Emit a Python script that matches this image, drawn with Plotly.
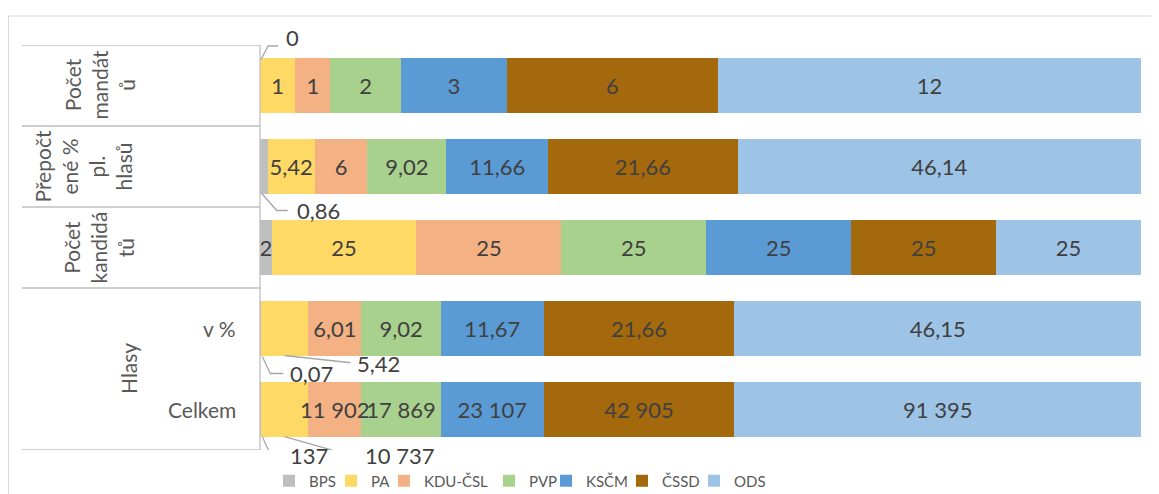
import plotly.graph_objects as go

# ---------------- data ----------------
row_labels = ["Počet<br>mandát<br>ů", "Přepočt<br>ené %<br>pl.<br>hlasů", "Počet<br>kandidá<br>tů", "v %", "Celkem"]
group_label = "Hlasy"          # spans the last two rows
parties = ["BPS", "PA", "KDU-ČSL", "PVP", "KSČM", "ČSSD", "ODS"]
bps = [0, 0.86, 2, 0.07, 137]
pa = [1, 5.42, 25, 5.42, 10737]
kdu = [1, 6, 25, 6.01, 11902]
pvp = [2, 9.02, 25, 9.02, 17869]
kscm = [3, 11.66, 25, 11.67, 23107]
cssd = [6, 21.66, 25, 21.66, 42905]
ods = [12, 46.14, 25, 46.15, 91395]
series = [bps, pa, kdu, pvp, kscm, cssd, ods]
colors = ["#BFBFBF", "#FFD966", "#F4B183", "#A9D18E", "#5B9BD5", "#A5690D", "#9DC3E6"]

# ---------------- layout constants ----------------
OFF = 8                      # page body margin
W, H = 1159 - OFF, 494 - OFF
L, R, T, B = 252, 18, 37, 44
PW = W - L - R
PH = H - T - B
FONT = "Lato"
LABEL_COLOR = "#404040"
AXIS_TEXT = "#595959"
LINE_COLOR = "#BFBFBF"
LEADER_COLOR = "#A6A6A6"
BARGAP = 0.333
HALF = (1 - BARGAP) / 2
LEGEND_WIDTHS = [17, 8, 60, 12, 31, 27, 34]


def px2paper_x(px):          # page pixel -> paper x
    return (px - OFF - L) / PW


def py2paper_y(py):          # page pixel -> paper y
    return (H - B - (py - OFF)) / PH


def fmt(v):
    if float(v).is_integer():
        return f"{int(v):,}".replace(",", " ")
    return f"{v:.2f}".rstrip("0").rstrip(".").replace(".", ",")


# labels drawn outside with leader lines: (series index, row) -> (edge, path, text dx, text dy)
outside = {
    (0, 0): ("top", "M 1,-1 L 8,12.5 L 18,12.5", 32, 20.5),
    (0, 1): ("bottom", "M -2,0 L 13,-17 L 24,-17", 55, -16.5),
    (0, 3): ("bottom", "M 2,-1 L 10,-18 L 23,-18", 51, -18),
    (1, 3): ("bottom", "M 0,0 L 64,-7 L 66,-7", 94, -8),
    (0, 4): ("bottom", "M 2,0 L 10,-18 L 23,-18", 49, -19),
    (1, 4): ("bottom", "M 0,0 L 63,-18 L 78,-18", 115.5, -19),
}
# inside labels that overflow their bar and are drawn on top of neighbours
overlay = {(2, 4)}

ys = list(range(len(row_labels)))
totals = [sum(s[i] for s in series) for i in ys]

fig = go.Figure()
for k, (name, vals, col) in enumerate(zip(parties, series, colors)):
    texts = []
    for i, v in enumerate(vals):
        if (k, i) in outside or (k, i) in overlay or v == 0:
            texts.append("")
        else:
            texts.append(fmt(v))
    fig.add_trace(go.Bar(
        name=name, y=ys, x=vals, orientation="h",
        marker=dict(color=col, line=dict(width=0)),
        text=texts, textposition="inside", insidetextanchor="middle",
        textangle=0, constraintext="none",
        textfont=dict(family=FONT, size=22, color=LABEL_COLOR),
        legendwidth=LEGEND_WIDTHS[k],
        hoverinfo="skip",
    ))

annotations = []
shapes = []


def center_pct(k, i):
    cum = sum(series[j][i] for j in range(k))
    return 100 * (cum + series[k][i] / 2) / totals[i]


# outside labels with leader lines
for (k, i), (edge, path, dx, dy) in outside.items():
    xc = center_pct(k, i)
    ya = i - HALF if edge == "top" else i + HALF
    shapes.append(dict(type="path", xref="x", yref="y", xsizemode="pixel", ysizemode="pixel",
                       xanchor=xc, yanchor=ya, path=path,
                       line=dict(color=LEADER_COLOR, width=1.3)))
    annotations.append(dict(x=xc, y=ya, xref="x", yref="y", text=fmt(series[k][i]),
                            showarrow=False, xanchor="center", yanchor="middle",
                            xshift=dx, yshift=dy, borderpad=0,
                            font=dict(family=FONT, size=22, color=LABEL_COLOR)))

# overflowing inside labels, drawn above the bars
for (k, i) in overlay:
    annotations.append(dict(x=center_pct(k, i), y=i, xref="x", yref="y", text=fmt(series[k][i]),
                            showarrow=False, xanchor="center", yanchor="middle",
                            font=dict(family=FONT, size=22, color=LABEL_COLOR)))

# category table labels
rot_centers = {0: 99, 1: 83, 2: 98}
for i, lab in enumerate(row_labels):
    if i in rot_centers:
        annotations.append(dict(x=px2paper_x(rot_centers[i]), y=i, xref="paper", yref="y",
                                text=lab, textangle=-90, showarrow=False,
                                xanchor="center", yanchor="middle", align="center",
                                font=dict(family=FONT, size=21, color=AXIS_TEXT)))
    else:
        annotations.append(dict(x=px2paper_x(238), y=i, xref="paper", yref="y",
                                text=lab, showarrow=False, xanchor="right", yanchor="middle",
                                font=dict(family=FONT, size=21, color=AXIS_TEXT)))
annotations.append(dict(x=px2paper_x(128), y=3.5, xref="paper", yref="y",
                        text=group_label, textangle=-90, showarrow=False,
                        xanchor="center", yanchor="middle",
                        font=dict(family=FONT, size=21, color=AXIS_TEXT)))

# table grid lines
for yb in [-0.5, 0.5, 1.5, 2.5, 4.5]:
    shapes.append(dict(type="line", xref="paper", yref="y", x0=px2paper_x(22), x1=0,
                       y0=yb, y1=yb, line=dict(color=LINE_COLOR, width=1.3)))
shapes.append(dict(type="line", xref="paper", yref="y", x0=0, x1=0, y0=-0.5, y1=4.5,
                   line=dict(color=LINE_COLOR, width=1.3)))
# chart border
shapes.append(dict(type="rect", xref="paper", yref="paper",
                   x0=px2paper_x(8.5), x1=px2paper_x(1180),
                   y0=py2paper_y(520), y1=py2paper_y(16),
                   line=dict(color="#D9D9D9", width=1), fillcolor="rgba(0,0,0,0)", layer="below"))

fig.update_layout(
    width=W, height=H,
    margin=dict(l=L, r=R, t=T, b=B, autoexpand=False),
    barmode="stack", barnorm="percent", bargap=BARGAP,
    plot_bgcolor="white", paper_bgcolor="white",
    uniformtext=dict(minsize=22, mode="show"),
    xaxis=dict(range=[0, 100], visible=False, fixedrange=True),
    yaxis=dict(range=[4.5, -0.5], showticklabels=False, showgrid=False, zeroline=False,
               showline=False, ticks=""),
    legend=dict(orientation="h", x=px2paper_x(269), xanchor="left",
                y=py2paper_y(481), yanchor="middle",
                font=dict(family=FONT, size=15, color=AXIS_TEXT),
                itemwidth=30, traceorder="normal", bgcolor="rgba(0,0,0,0)"),
    annotations=annotations, shapes=shapes,
    showlegend=True,
)

fig.write_html("out.html")
